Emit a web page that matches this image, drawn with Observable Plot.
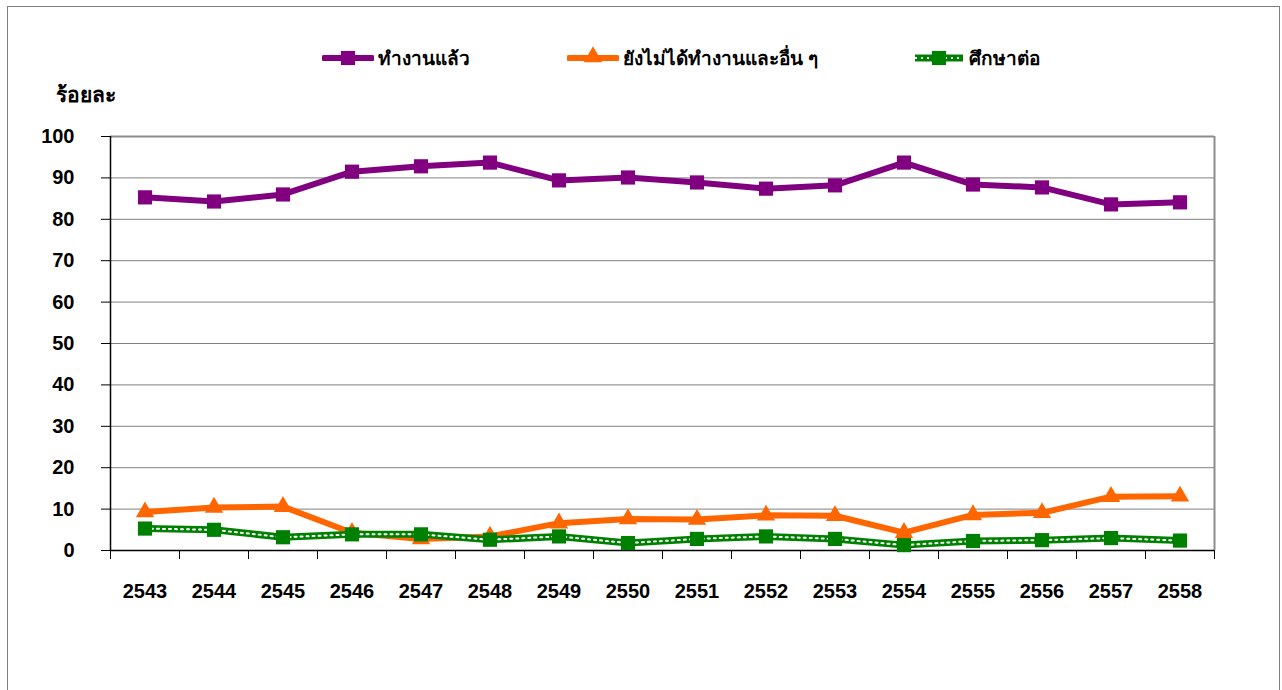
<!DOCTYPE html>
<html>
<head>
<meta charset="utf-8">
<script src="https://cdn.jsdelivr.net/npm/d3@7"></script>
<script src="https://cdn.jsdelivr.net/npm/@observablehq/plot@0.6"></script>
<style>
  html, body { margin: 0; padding: 0; background: #fff; }
  body { width: 1282px; height: 690px; position: relative; overflow: hidden;
         font-family: "Liberation Sans", Arial, sans-serif; }
  #frame { position: absolute; left: 7px; top: 6px; width: 1273px; height: 720px;
           border: 1px solid #7f7f7f; box-sizing: border-box; }
  #chart { position: absolute; left: 0; top: 0; }
  #legend { position: absolute; top: 45px; left: 322px; height: 26px; white-space: nowrap; }
  .item { display: inline-flex; align-items: center; vertical-align: top; height: 26px;
          font-weight: bold; font-size: 19px; color: #000; }
  .item svg { margin-right: 4px; }
  #ylabel { position: absolute; left: 56px; top: 78px; font-weight: bold; font-size: 21px; color: #000; }
</style>
</head>
<body>
<div id="frame"></div>
<div id="chart"></div>
<div id="legend"></div>
<div id="ylabel"></div>
<script>
const years = [2543, 2544, 2545, 2546, 2547, 2548, 2549, 2550, 2551, 2552, 2553, 2554, 2555, 2556, 2557, 2558];
const employed = [85.3, 84.3, 86.0, 91.5, 92.8, 93.7, 89.4, 90.1, 88.9, 87.4, 88.2, 93.7, 88.4, 87.7, 83.6, 84.1];
const notWorking = [9.3, 10.4, 10.6, 4.3, 2.8, 3.4, 6.6, 7.6, 7.5, 8.5, 8.4, 4.3, 8.6, 9.1, 13.0, 13.1];
const studying = [5.3, 5.0, 3.2, 3.9, 3.9, 2.6, 3.4, 1.8, 2.8, 3.4, 2.8, 1.3, 2.3, 2.5, 3.0, 2.4];
const seriesNames = ["ทำงานแล้ว", "ยังไม่ได้ทำงานและอื่น ๆ", "ศึกษาต่อ"];
const yTicks = [0, 10, 20, 30, 40, 50, 60, 70, 80, 90, 100];
const yLabel = "ร้อยละ";

const PURPLE = "#800080", ORANGE = "#FF6600", GREEN = "#008000";

const rows = (vals) => years.map((y, i) => ({year: y, value: vals[i]}));
const dEmp = rows(employed), dNot = rows(notWorking), dStu = rows(studying);
const boundaries = [years[0] - 0.5, ...years.map(y => y + 0.5)];

const textStyle = {fontSize: 20, fontWeight: "bold", fill: "#000"};

const plot = Plot.plot({
  width: 1282,
  height: 690,
  marginLeft: 110,
  marginRight: 68,
  marginTop: 136,
  marginBottom: 140,
  style: {fontFamily: "'Liberation Sans', Arial, sans-serif", background: "transparent", color: "#000"},
  x: {type: "linear", domain: [years[0] - 0.5, years[years.length - 1] + 0.5]},
  y: {type: "linear", domain: [0, 100]},
  marks: [
    Plot.gridY(yTicks, {stroke: "#808080", strokeOpacity: 1, strokeWidth: 1}),
    Plot.ruleY([100], {stroke: "#8c8c8c", strokeWidth: 2}),
    Plot.ruleX([boundaries[boundaries.length - 1]], {stroke: "#8c8c8c", strokeWidth: 2}),
    Plot.axisY(yTicks, {tickSize: 9, tickPadding: 27, stroke: "#000", label: null, ...textStyle}),
    Plot.ruleX([boundaries[0]], {stroke: "#000", strokeWidth: 1.5}),
    Plot.ruleY([0], {stroke: "#000", strokeWidth: 1.5}),
    Plot.axisX(boundaries, {tickSize: 9, tickFormat: () => "", stroke: "#000", label: null}),
    Plot.axisX(years, {tickSize: 0, tickPadding: 33, tickFormat: d => String(d), label: null, ...textStyle}),

    Plot.lineY(dEmp, {x: "year", y: "value", stroke: PURPLE, strokeWidth: 6, strokeLinejoin: "miter"}),
    Plot.dot(dEmp, {x: "year", y: "value", symbol: "square", r: 8, fill: PURPLE, stroke: "none"}),

    Plot.lineY(dNot, {x: "year", y: "value", stroke: ORANGE, strokeWidth: 6}),
    Plot.dot(dNot, {x: "year", y: "value", symbol: "triangle", r: 6.8, fill: ORANGE, stroke: "none"}),

    Plot.lineY(dStu, {x: "year", y: "value", stroke: GREEN, strokeWidth: 7}),
    Plot.lineY(dStu, {x: "year", y: "value", stroke: "#fff", strokeWidth: 2, strokeDasharray: "2,4"}),
    Plot.dot(dStu, {x: "year", y: "value", symbol: "square", r: 8, fill: GREEN, stroke: "none"})
  ]
});
document.getElementById("chart").appendChild(plot);

document.getElementById("ylabel").textContent = yLabel;

// legend
const legend = document.getElementById("legend");
const swatches = [
  {color: PURPLE, symbol: d3.symbolSquare, dotted: false},
  {color: ORANGE, symbol: d3.symbolTriangle, dotted: false},
  {color: GREEN, symbol: d3.symbolSquare, dotted: true}
];
const itemWidths = [245, 346, 200];
seriesNames.forEach((name, i) => {
  const sw = swatches[i];
  const item = document.createElement("span");
  item.className = "item";
  item.style.width = itemWidths[i] + "px";
  const svg = d3.create("svg").attr("width", 52).attr("height", 24);
  svg.append("line").attr("x1", 2).attr("x2", 50).attr("y1", 12).attr("y2", 12)
    .attr("stroke", sw.color).attr("stroke-width", sw.dotted ? 7 : 6)
    .attr("stroke-linecap", sw.dotted ? "butt" : "round");
  if (sw.dotted) {
    svg.append("line").attr("x1", 2).attr("x2", 50).attr("y1", 12).attr("y2", 12)
      .attr("stroke", "#fff").attr("stroke-width", 2).attr("stroke-dasharray", "2,4");
  }
  const area = sw.symbol === d3.symbolSquare ? 200 : 150;
  svg.append("path").attr("d", d3.symbol(sw.symbol, area)())
    .attr("transform", `translate(26,${sw.symbol === d3.symbolSquare ? 12 : 11})`).attr("fill", sw.color);
  item.appendChild(svg.node());
  const t = document.createElement("span");
  t.textContent = name;
  item.appendChild(t);
  legend.appendChild(item);
});
</script>
</body>
</html>
